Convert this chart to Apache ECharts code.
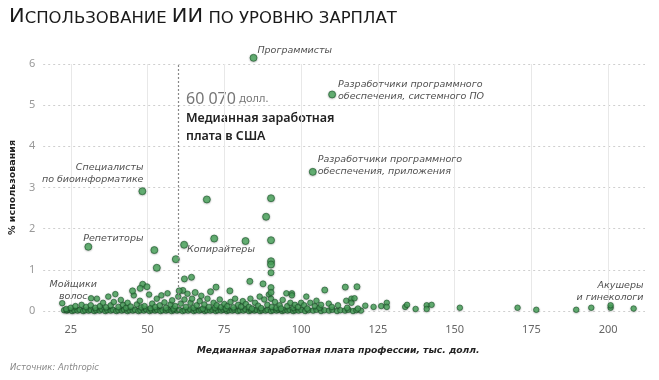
<!DOCTYPE html>
<html><head><meta charset="utf-8">
<script src="https://cdn.jsdelivr.net/npm/echarts@6/dist/echarts.min.js"></script>
<style>html,body{margin:0;padding:0;background:#fff}#c{width:659px;height:380px}</style>
</head><body><div id="c"></div>
<script>
// ---- data ----
const xTicks = [25, 50, 75, 100, 125, 150, 175, 200];
const yTicks = [0, 1, 2, 3, 4, 5, 6];
const medianSalary = 60.07;

const namedNames = ['Программисты', 'Разработчики программного\nобеспечения, системного ПО', 'Разработчики программного\nобеспечения, приложения', 'Специалисты\nпо биоинформатике', 'Репетиторы', 'Копирайтеры', 'Мойщики\nволос', 'Акушеры\nи гинекологи'];
const namedSalaries = [84.5, 110.1, 103.8, 48.3, 30.7, 61.9, 22.2, 200.8];
const namedUsage = [6.15, 5.26, 3.38, 2.91, 1.56, 1.61, 0.19, 0.14];

const outlierPoints = [
  [69.3,2.71],[90.2,2.74],[88.6,2.29],[71.7,1.76],[81.9,1.70],[90.2,1.72],[52.2,1.48],[59.2,1.26],[53.0,1.05],
  [90.2,1.21],[90.2,1.13],[90.2,0.93],[62.0,0.78],[64.3,0.82],[48.4,0.65],[49.8,0.59],[47.6,0.55],[83.3,0.72],
  [87.6,0.66],[90.2,0.57],[72.3,0.58],[76.8,0.49],[60.3,0.49],[90.2,0.45],[45.1,0.49],[31.6,0.31],[39.5,0.41],
  [37.2,0.35],[41.3,0.27],[95.2,0.43],[97.0,0.43],[97.0,0.38],[101.7,0.35],[107.7,0.51],[114.4,0.58],[118.2,0.59],
  [114.7,0.25],[116.4,0.30],[116.4,0.20],[117.4,0.31]
];

const clusterPoints = [
  [23.5,0.05],[25,0.08],[26.5,0.12],[28.5,0.15],[30,0.10],[31.5,0.14],[33,0.08],[33.5,0.30],[34.5,0.12],[35.5,0.20],
  [36.5,0.09],[38,0.14],[39,0.22],[40.5,0.10],[42,0.15],[43,0.08],[43.5,0.20],[44.5,0.11],[45.5,0.38],[46.5,0.16],
  [47.5,0.25],[48,0.09],[49,0.12],[50.5,0.40],[51,0.07],[51.5,0.18],[52.5,0.10],[53,0.30],[54,0.14],[54.5,0.38],
  [55.5,0.21],[56,0.08],[56.5,0.43],[57.5,0.16],[58,0.26],[58.5,0.06],[59,0.12],[60,0.35],[60.8,0.18],[61.5,0.50],
  [62,0.28],[62.5,0.10],[63,0.42],[64,0.20],[64.5,0.30],[65,0.08],[65.5,0.45],[66,0.14],[67,0.24],[67.5,0.37],
  [68,0.06],[68.5,0.16],[69.5,0.30],[70,0.10],[70.5,0.47],[71.5,0.20],[72,0.08],[72.5,0.14],[73.5,0.28],[74,0.10],
  [75,0.17],[75.5,0.06],[76,0.12],[77,0.22],[78,0.09],[78.5,0.30],[79.5,0.15],[80.5,0.11],[81,0.24],[82,0.17],
  [83,0.10],[83.5,0.30],[84,0.06],[85,0.20],[86,0.13],[86.5,0.35],[87,0.07],[88,0.28],[89,0.15],[89.5,0.40],
  [90.2,0.30],[90.5,0.10],[91.5,0.22],[92,0.08],[93,0.14],[93.5,0.06],[94,0.27],[95.5,0.12],[96.5,0.20],[97.5,0.08],
  [98,0.15],[99,0.10],[100,0.20],[101,0.14],[102,0.06],[103,0.20],[104.5,0.12],[105,0.25],[106,0.08],[106.5,0.15],
  [109,0.18],[110,0.10],[112,0.14],[115,0.08],[118.5,0.06],[120.9,0.13],[123.6,0.10],[126.1,0.12],[127.9,0.20],
  [127.9,0.10],[133.9,0.10],[134.5,0.15],[137.3,0.05],[140.9,0.14],[140.9,0.05],[142.5,0.15],[151.7,0.08],
  [170.5,0.08],[176.6,0.03],[189.6,0.03],[194.5,0.08],[200.8,0.08],[208.3,0.06]
];

const baselinePoints = [
  [22.8,0.02],[23.7,0.01],[24.3,0.03],[25.4,0.00],[26.1,0.02],[27.2,0.01],[27.9,0.03],[29.0,0.00],[29.7,0.02],[30.8,0.01],
  [31.5,0.03],[32.6,0.00],[33.3,0.02],[34.4,0.01],[35.1,0.04],[36.2,0.00],[36.9,0.02],[38.0,0.01],[38.7,0.03],[39.8,0.00],
  [40.5,0.02],[41.6,0.01],[42.3,0.03],[43.4,0.00],[44.1,0.02],[45.2,0.01],[45.9,0.03],[47.0,0.00],[47.7,0.02],[48.8,0.01],
  [49.5,0.04],[50.6,0.00],[51.3,0.02],[52.4,0.01],[53.1,0.03],[54.2,0.00],[54.9,0.02],[56.0,0.01],[56.7,0.03],[57.8,0.00],
  [58.5,0.02],[59.6,0.01],[60.3,0.03],[61.4,0.00],[62.1,0.02],[63.2,0.01],[63.9,0.04],[65.0,0.00],[65.7,0.02],[66.8,0.01],
  [67.5,0.03],[68.6,0.00],[69.3,0.02],[70.4,0.01],[71.1,0.03],[72.2,0.00],[72.9,0.02],[74.0,0.01],[74.7,0.03],[75.8,0.00],
  [76.5,0.02],[77.6,0.01],[78.3,0.03],[79.4,0.00],[80.1,0.02],[81.2,0.01],[81.9,0.04],[83.0,0.00],[83.7,0.02],[84.8,0.01],
  [85.5,0.03],[86.6,0.00],[87.3,0.02],[88.4,0.01],[89.1,0.03],[90.2,0.00],[90.9,0.02],[92.0,0.01],[92.7,0.03],[93.8,0.00],
  [94.5,0.02],[95.6,0.01],[96.3,0.03],[97.4,0.00],[98.1,0.02],[99.2,0.01],[100.1,0.03],[101.3,0.00],[102.4,0.02],[103.9,0.01],
  [105.0,0.03],[106.5,0.00],[107.6,0.02],[109.1,0.01],[110.2,0.03],[111.7,0.00],[112.8,0.02],[114.3,0.01],[115.4,0.03],
  [116.9,0.00],[118.0,0.02],[119.5,0.01]
];

// ---- layout for named labels (not data) ----
const labelLayout = {
  'Программисты': {position: 'right', offset: [-5, -7], align: 'left'},
  'Разработчики программного\nобеспечения, системного ПО': {position: 'right', offset: [-3, -4], align: 'left'},
  'Разработчики программного\nобеспечения, приложения': {position: 'right', offset: [-4, -6], align: 'left'},
  'Специалисты\nпо биоинформатике': {position: 'left', offset: [10, -18], align: 'right'},
  'Репетиторы': {position: 'right', offset: [-14, -8], align: 'left'},
  'Копирайтеры': {position: 'right', offset: [-6, 5], align: 'left'},
  'Мойщики\nволос': {position: 'top', offset: [11, 8], align: 'center'},
  'Акушеры\nи гинекологи': {position: 'left', offset: [41, -14], align: 'right'}
};

const labelFont = {fontFamily: 'DejaVu Sans', fontStyle: 'italic', fontSize: 9.5, color: '#222', lineHeight: 12};

const allGeneric = baselinePoints.concat(clusterPoints, outlierPoints);
const namedData = namedNames.map((n, i) => {
  const l = labelLayout[n];
  return {
    name: n, value: [namedSalaries[i], namedUsage[i]],
    label: Object.assign({show: true, formatter: '{b}', position: l.position, offset: l.offset, align: l.align, distance: 5}, labelFont)
  };
});

const pointStyle = {color: '#4dac60', borderColor: '#1d5a2c', borderWidth: 0.8, shadowBlur: 2, shadowColor: 'rgba(0,0,0,0.35)', shadowOffsetY: 0.5};
const sizeFn = v => (v[1] >= 1 ? 7 : (v[1] >= 0.45 ? 6 : 5.5));

const chart = echarts.init(document.getElementById('c'));
chart.setOption({
  animation: false,
  backgroundColor: '#fff',
  grid: {left: 40, right: 14, top: 64, bottom: 69},
  xAxis: {
    type: 'value', min: 16, max: 212,
    axisLine: {show: false}, axisTick: {show: false, customValues: xTicks},
    axisLabel: {customValues: xTicks, color: '#666', fontFamily: 'Noto Sans', fontSize: 11, margin: 13},
    splitLine: {show: true, lineStyle: {color: '#e8e8e8', width: 1, type: 'solid'}},
    name: 'Медианная заработная плата профессии, тыс. долл.', nameLocation: 'middle', nameGap: 35,
    nameTextStyle: {fontFamily: 'DejaVu Sans', fontStyle: 'italic', fontWeight: 'bold', fontSize: 9.2, color: '#222', padding: [0, 12, 0, 0]}
  },
  yAxis: {
    type: 'value', min: 0, max: 6, interval: 1,
    axisLine: {show: false}, axisTick: {show: false},
    axisLabel: {color: '#999', fontFamily: 'Noto Sans', fontSize: 11, margin: 8},
    splitLine: {show: true, lineStyle: {color: '#cfcfcf', width: 1, type: [2, 3]}},
    name: '% использования', nameLocation: 'middle', nameGap: 23,
    nameTextStyle: {fontFamily: 'DejaVu Sans', fontWeight: 'bold', fontSize: 9.5, color: '#222'}
  },
  series: [
    {
      type: 'scatter', data: allGeneric, symbolSize: sizeFn, itemStyle: pointStyle, z: 3, clip: false,
      markLine: {
        silent: true, symbol: 'none', label: {show: false},
        lineStyle: {color: '#888', type: [2, 2], width: 1.2},
        data: [{xAxis: medianSalary}]
      }
    },
    {type: 'scatter', data: namedData, symbolSize: sizeFn, itemStyle: pointStyle, z: 4, clip: false}
  ],
  graphic: [
    {type: 'text', x: 9, y: 8, scaleX: 1.1, style: {
      text: '{c|И}{s|СПОЛЬЗОВАНИЕ }{c|ИИ}{s| ПО УРОВНЮ ЗАРПЛАТ}',
      rich: {
        c: {fontFamily: 'DejaVu Sans', fontSize: 19, fill: '#1a1a1a', verticalAlign: 'bottom'},
        s: {fontFamily: 'DejaVu Sans', fontSize: 15, fill: '#1a1a1a', verticalAlign: 'bottom'}
      }
    }},
    {type: 'text', left: 186, top: 91, style: {
      text: '{a|60 070} {b|долл.}',
      rich: {a: {fontFamily: 'Noto Sans', fontSize: 16, fill: '#777'}, b: {fontFamily: 'Noto Sans', fontSize: 11, fill: '#777'}}
    }},
    {type: 'text', left: 186, top: 109, style: {
      text: 'Медианная заработная\nплата в США', fontFamily: 'Noto Sans', fontWeight: 600, fontSize: 12.5, lineHeight: 18, fill: '#222'
    }},
    {type: 'text', left: 10, top: 363, style: {
      text: 'Источник: Anthropic', fontFamily: 'DejaVu Sans', fontStyle: 'italic', fontSize: 8.5, fill: '#888'
    }}
  ]
});
</script></body></html>
